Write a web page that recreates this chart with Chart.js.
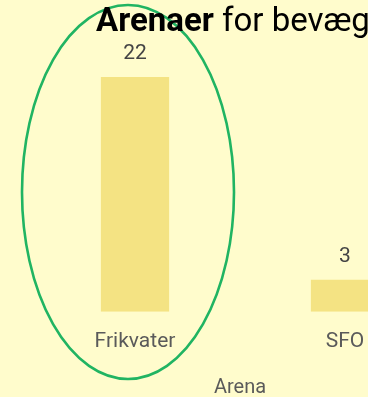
<!DOCTYPE html>
<html>
<head>
<meta charset="utf-8">
<script src="https://cdn.jsdelivr.net/npm/chart.js@4"></script>
<style>
    html, body { margin: 0; padding: 0; background: #fffccc; overflow: hidden; }
    #wrap { width: 480px; height: 397px; }
</style>
</head>
<body>
<div id="wrap"><canvas id="arenaChart" width="480" height="397"></canvas></div>
<script>
// Data
const arenaer = ["Frikvater", "SFO"];
const antall = [22, 3];
const aksetittel = "Arena";
const tittelFet = "Arenaer";
const tittelResten = " for bevægelse";

const bakgrunn = "#fffccc";
const stolpeFarge = "#f4e383";

// Tittel med fet første ord
const tittelPlugin = {
    id: "tittel",
    afterDraw(chart) {
        const ctx = chart.ctx;
        ctx.save();
        ctx.textBaseline = "alphabetic";
        ctx.fillStyle = "#000";
        ctx.font = "bold 33px Roboto";
        ctx.fillText(tittelFet, 96, 31);
        const w = ctx.measureText(tittelFet).width;
        ctx.font = "33px Roboto";
        ctx.fillText(tittelResten, 96 + w, 31);
        ctx.restore();
    }
};

// Verdier over stolpene
const verdiPlugin = {
    id: "verdier",
    afterDatasetsDraw(chart) {
        const ctx = chart.ctx;
        const meta = chart.getDatasetMeta(0);
        ctx.save();
        ctx.font = "21px Roboto";
        ctx.fillStyle = "#444";
        ctx.textAlign = "center";
        ctx.textBaseline = "alphabetic";
        meta.data.forEach((bar, i) => {
            ctx.fillText(String(antall[i]), bar.x, bar.y - 18);
        });
        ctx.restore();
    }
};

// Grønn ring rundt første kategori
const ringPlugin = {
    id: "ring",
    afterDraw(chart) {
        const ctx = chart.ctx;
        const x = chart.scales.x;
        const cx = x.getPixelForValue(0) - 7;
        ctx.save();
        ctx.strokeStyle = "#20b462";
        ctx.lineWidth = 2.6;
        ctx.beginPath();
        ctx.ellipse(cx, 192, 106, 187, 0, 0, Math.PI * 2);
        ctx.stroke();
        ctx.restore();
    }
};

new Chart(document.getElementById("arenaChart"), {
    type: "bar",
    data: {
        labels: arenaer,
        datasets: [{
            data: antall,
            backgroundColor: stolpeFarge,
            borderWidth: 0,
            barPercentage: 0.65,
            categoryPercentage: 0.5
        }]
    },
    options: {
        responsive: false,
        animation: false,
        layout: { padding: { top: 77, left: 30, right: 30, bottom: -3 } },
        plugins: {
            legend: { display: false },
            tooltip: { enabled: false },
            title: { display: false }
        },
        scales: {
            y: {
                display: false,
                beginAtZero: true,
                max: Math.max(...antall)
            },
            x: {
                grid: { display: false },
                border: { display: false },
                ticks: {
                    color: "#5a5a5a",
                    font: { family: "Roboto", size: 21 },
                    padding: 9
                },
                title: {
                    display: true,
                    text: aksetittel,
                    color: "#5a5a5a",
                    font: { family: "Roboto", size: 20 },
                    padding: { top: 13, bottom: 0 }
                }
            }
        }
    },
    plugins: [
        { id: "bg", beforeDraw(c) { c.ctx.save(); c.ctx.fillStyle = bakgrunn; c.ctx.fillRect(0, 0, c.width, c.height); c.ctx.restore(); } },
        verdiPlugin, ringPlugin, tittelPlugin
    ]
});
</script>
</body>
</html>
